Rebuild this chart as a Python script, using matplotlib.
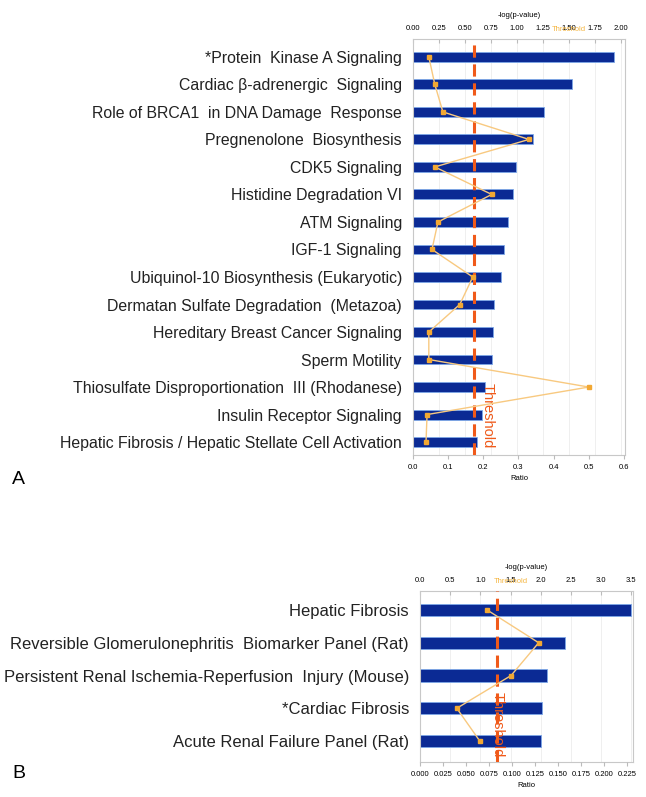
"""
IPA canonical pathway charts, panels A and B
"""
import numpy as np
import matplotlib.pyplot as plt
from matplotlib.ticker import MultipleLocator, FormatStrFormatter

plt.rcParams['font.family'] = ['Liberation Sans', 'DejaVu Sans']

# =============================================================================
#     Data
# =============================================================================

pathways_a = ['*Protein  Kinase A Signaling',
              'Cardiac \u03b2-adrenergic  Signaling',
              'Role of BRCA1  in DNA Damage  Response',
              'Pregnenolone  Biosynthesis',
              'CDK5 Signaling',
              'Histidine Degradation VI',
              'ATM Signaling',
              'IGF-1 Signaling',
              'Ubiquinol-10 Biosynthesis (Eukaryotic)',
              'Dermatan Sulfate Degradation  (Metazoa)',
              'Hereditary Breast Cancer Signaling',
              'Sperm Motility',
              'Thiosulfate Disproportionation  III (Rhodanese)',
              'Insulin Receptor Signaling',
              'Hepatic Fibrosis / Hepatic Stellate Cell Activation']
logp_a = [1.93, 1.53, 1.26, 1.15, 0.99, 0.96, 0.91, 0.875, 0.85,
          0.78, 0.77, 0.76, 0.69, 0.66, 0.62]
ratio_a = [0.045, 0.062, 0.085, 0.33, 0.062, 0.224, 0.071, 0.054, 0.17,
           0.133, 0.045, 0.045, 0.50, 0.040, 0.037]
threshold_a = 0.59

pathways_b = ['Hepatic Fibrosis',
              'Reversible Glomerulonephritis  Biomarker Panel (Rat)',
              'Persistent Renal Ischemia-Reperfusion  Injury (Mouse)',
              '*Cardiac Fibrosis',
              'Acute Renal Failure Panel (Rat)']
logp_b = [3.50, 2.41, 2.10, 2.03, 2.01]
ratio_b = [0.073, 0.129, 0.099, 0.040, 0.065]
threshold_b = 1.28

BAR_BLUE = '#0b2a94'
THR_ORANGE = '#f05a1a'
LINE_ORANGE = '#f8c980'
MARK_ORANGE = '#f2a833'

fig = plt.figure(figsize=(6.46, 7.97), dpi=100)


# =============================================================================
#     Panel plot
# =============================================================================

def pathway_panel(rect, names, logp, ratio, thr, top_lim, top_step, top_fmt,
                  bot_lim, bot_step, bot_fmt, pad_top, pad_bot, bar_h,
                  thr_text_pos, label_size):

    ax = fig.add_axes(rect)
    ax2 = ax.twiny()   # twin first, twiny resets ax's tick side
    y = np.arange(len(names))
    ylim = (len(names) - 1 + pad_bot, -pad_top)

    # bars for -log(p-value), top axis
    ax.barh(y, logp, height=bar_h, color=BAR_BLUE, edgecolor='#7ea8e8',
            linewidth=0.6, zorder=2)
    ax.axvline(thr, color=THR_ORANGE, linestyle=(0, (4, 2.2)), linewidth=2.2,
               zorder=3)
    ax.text(thr_text_pos[0], thr_text_pos[1], 'Threshold', rotation=-90,
            color=THR_ORANGE, fontsize=10.5, ha='center', va='center',
            zorder=4)
    ax.annotate('Threshold', xy=(1.5, 1), xycoords=('data', 'axes fraction'),
                xytext=(0, 4), textcoords='offset points', ha='center',
                va='bottom', fontsize=5.5, color='#f5b642')

    ax.set_xlim(*top_lim)
    ax.xaxis.set_major_locator(MultipleLocator(top_step))
    ax.xaxis.set_major_formatter(FormatStrFormatter(top_fmt))
    ax.xaxis.tick_top()
    ax.xaxis.set_label_position('top')
    ax.set_xlabel('-log(p-value)', fontsize=5.5, labelpad=6)
    ax.tick_params(axis='x', labelsize=5.5, length=3, direction='in',
                   color='#bbbbbb', pad=5)
    ax.grid(axis='x', color='#efefef', linewidth=0.7, zorder=0)
    ax.set_axisbelow(True)

    ax.set_yticks(y)
    ax.set_yticklabels(names, fontsize=label_size, color='#222222')
    ax.tick_params(axis='y', length=0, pad=8)
    ax.set_ylim(*ylim)

    for s in ax.spines.values():
        s.set_color('#c8c8c8')
        s.set_linewidth(0.8)

    # ratio line, bottom axis
    ax2.plot(ratio, y, color=LINE_ORANGE, linewidth=1.0, marker='s',
             markersize=3.5, markerfacecolor=MARK_ORANGE,
             markeredgecolor=MARK_ORANGE, zorder=5)
    ax2.set_xlim(*bot_lim)
    ax2.xaxis.set_major_locator(MultipleLocator(bot_step))
    ax2.xaxis.set_major_formatter(FormatStrFormatter(bot_fmt))
    ax2.xaxis.tick_bottom()
    ax2.xaxis.set_label_position('bottom')
    ax2.set_xlabel('Ratio', fontsize=5.5, labelpad=3)
    ax2.tick_params(axis='x', labelsize=5.5, length=3, color='#bbbbbb')
    ax2.set_ylim(*ylim)
    for s in ax2.spines.values():
        s.set_visible(False)

    return ax, ax2


pathway_panel([413 / 646, 1 - 455 / 797, 212 / 646, 416 / 797],
              pathways_a, logp_a, ratio_a, threshold_a,
              (0, 2.04), 0.25, '%.2f', (0, 0.603), 0.1, '%.1f',
              0.65, 0.47, 0.36, (0.72, 13.05), 11.4)

pathway_panel([420 / 646, 1 - 762 / 797, 213 / 646, 171 / 797],
              pathways_b, logp_b, ratio_b, threshold_b,
              (0, 3.53), 0.5, '%.1f', (0, 0.2315), 0.025, '%.3f',
              0.58, 0.64, 0.37, (threshold_b, 3.5), 12)

fig.text(12 / 646, 1 - 480 / 797, 'A', fontsize=14, ha='left', va='center')
fig.text(12 / 646, 1 - 773 / 797, 'B', fontsize=14, ha='left', va='center')

fig.savefig('out.png', dpi=100)
